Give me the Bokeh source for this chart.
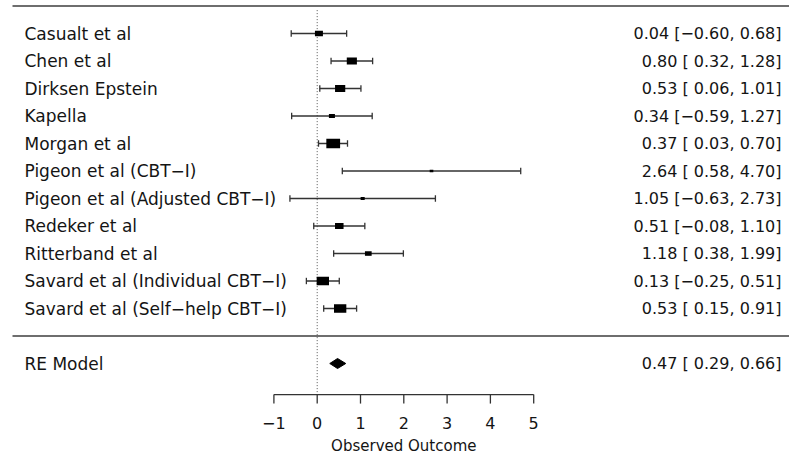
from bokeh.plotting import figure
from bokeh.models import Range1d, ColumnDataSource
from bokeh.core.properties import value
from bokeh.embed import file_html
from bokeh.resources import INLINE

# Study data: effect estimates with 95% confidence intervals
studies = [
    "Casualt et al",
    "Chen et al",
    "Dirksen Epstein",
    "Kapella",
    "Morgan et al",
    "Pigeon et al (CBT\u2212I)",
    "Pigeon et al (Adjusted CBT\u2212I)",
    "Redeker et al",
    "Ritterband et al",
    "Savard et al (Individual CBT\u2212I)",
    "Savard et al (Self\u2212help CBT\u2212I)",
]
estimates = [0.04, 0.80, 0.53, 0.34, 0.37, 2.64, 1.05, 0.51, 1.18, 0.13, 0.53]
ci_lower = [-0.60, 0.32, 0.06, -0.59, 0.03, 0.58, -0.63, -0.08, 0.38, -0.25, 0.15]
ci_upper = [0.68, 1.28, 1.01, 1.27, 0.70, 4.70, 2.73, 1.10, 1.99, 0.51, 0.91]

# Random-effects pooled estimate
re_label = "RE Model"
re_est, re_lower, re_upper = 0.47, 0.29, 0.66

x_ticks = [-1, 0, 1, 2, 3, 4, 5]
x_title = "Observed Outcome"

# ---- layout (pixels) ----
W, H = 789, 457
PX_PER_UNIT = 43.3      # horizontal scale
ZERO_PX = 316.7         # pixel column of x = 0
ROW_PX = 27.5           # vertical spacing between rows
TOP_ROW_PX = 33         # pixel row of the first study

k = len(studies)
x0 = -ZERO_PX / PX_PER_UNIT
x1 = (W - ZERO_PX) / PX_PER_UNIT
y_top = k + TOP_ROW_PX / ROW_PX
y_bot = k - (H - TOP_ROW_PX) / ROW_PX


def px_to_x(px):
    return (px - ZERO_PX) / PX_PER_UNIT


def fmt(v):
    return f"{v:.2f}".replace("-", "\u2212")


def fmt_ci(est, lo, hi):
    lo_s = fmt(lo) if lo < 0 else " " + fmt(lo)
    return f"{fmt(est)} [{lo_s}, {fmt(hi)}]"


p = figure(width=W, height=H, output_backend="svg", toolbar_location=None,
           x_range=Range1d(x0, x1), y_range=Range1d(y_bot, y_top),
           min_border=0)
p.axis.visible = False
p.grid.visible = False
p.outline_line_color = None
p.background_fill_color = "white"

FONT = value("DejaVu Sans")
TEXT_COLOR = "#141414"
LINE_COLOR = "#333333"

rows = [k - i for i in range(k)]

# horizontal rules: top and above the pooled estimate
p.segment(x0=[px_to_x(12), px_to_x(12)], x1=[x1, x1], y0=[k + 1, 0], y1=[k + 1, 0],
          line_color="#6e6e6e", line_width=2)

# reference line at zero
axis_row = -2.13
p.segment(x0=[0], x1=[0], y0=[k + 0.85], y1=[axis_row],
          line_color="#555555", line_width=1, line_dash="1 2")

# confidence intervals with end caps
src = ColumnDataSource(dict(y=rows, est=estimates, lo=ci_lower, hi=ci_upper,
                            label=studies,
                            ann=[fmt_ci(e, l, h) for e, l, h in zip(estimates, ci_lower, ci_upper)]))
p.segment(x0="lo", x1="hi", y0="y", y1="y", source=src, line_color=LINE_COLOR, line_width=1.3)
cap = 3.2 / ROW_PX
p.segment(x0=ci_lower, x1=ci_lower, y0=[r - cap for r in rows], y1=[r + cap for r in rows],
          line_color=LINE_COLOR, line_width=1.3)
p.segment(x0=ci_upper, x1=ci_upper, y0=[r - cap for r in rows], y1=[r + cap for r in rows],
          line_color=LINE_COLOR, line_width=1.3)

# squares sized by study precision (inverse of CI width)
precision = [3.92 / (h - l) for l, h in zip(ci_lower, ci_upper)]
heights = [1.14 + 1.43 * w for w in precision]
widths = [1.45 * h for h in heights]
p.rect(x=estimates, y=rows, width=widths, height=heights,
       width_units="screen", height_units="screen",
       fill_color="black", line_color="black", line_width=0)

# pooled diamond
dh = 5.0 / ROW_PX
p.patch(x=[re_lower, re_est, re_upper, re_est], y=[-1, -1 + dh, -1, -1 - dh],
        fill_color="black", line_color="black", line_width=1)

# study labels and annotations
label_x = px_to_x(24)
ann_x = px_to_x(781)
p.text(x=label_x, y="y", text="label", source=src, text_font=FONT, text_font_size="17px",
       text_baseline="middle", text_align="left", text_color=TEXT_COLOR)
p.text(x=ann_x, y="y", text="ann", source=src, text_font=FONT, text_font_size="16px",
       text_baseline="middle", text_align="right", text_color=TEXT_COLOR)
p.text(x=[label_x], y=[-1], text=[re_label], text_font=FONT, text_font_size="17px",
       text_baseline="middle", text_align="left", text_color=TEXT_COLOR)
p.text(x=[ann_x], y=[-1], text=[fmt_ci(re_est, re_lower, re_upper)], text_font=FONT,
       text_font_size="16px", text_baseline="middle", text_align="right", text_color=TEXT_COLOR)

# x axis drawn in the plot body
tick_len = 9 / ROW_PX
p.segment(x0=[x_ticks[0]], x1=[x_ticks[-1]], y0=[axis_row], y1=[axis_row],
          line_color=LINE_COLOR, line_width=1.3)
p.segment(x0=x_ticks, x1=x_ticks, y0=[axis_row] * len(x_ticks),
          y1=[axis_row - tick_len] * len(x_ticks), line_color=LINE_COLOR, line_width=1.3)
p.text(x=x_ticks, y=[axis_row - 1.03] * len(x_ticks),
       text=[str(t).replace("-", "\u2212") for t in x_ticks],
       text_font=FONT, text_font_size="16px", text_baseline="middle", text_align="center",
       text_color=TEXT_COLOR)
p.text(x=[(x_ticks[0] + x_ticks[-1]) / 2], y=[axis_row - 1.86], text=[x_title],
       text_font=FONT, text_font_size="15px", text_baseline="middle", text_align="center",
       text_color=TEXT_COLOR)

open("out.html", "w").write(file_html(p, INLINE))
